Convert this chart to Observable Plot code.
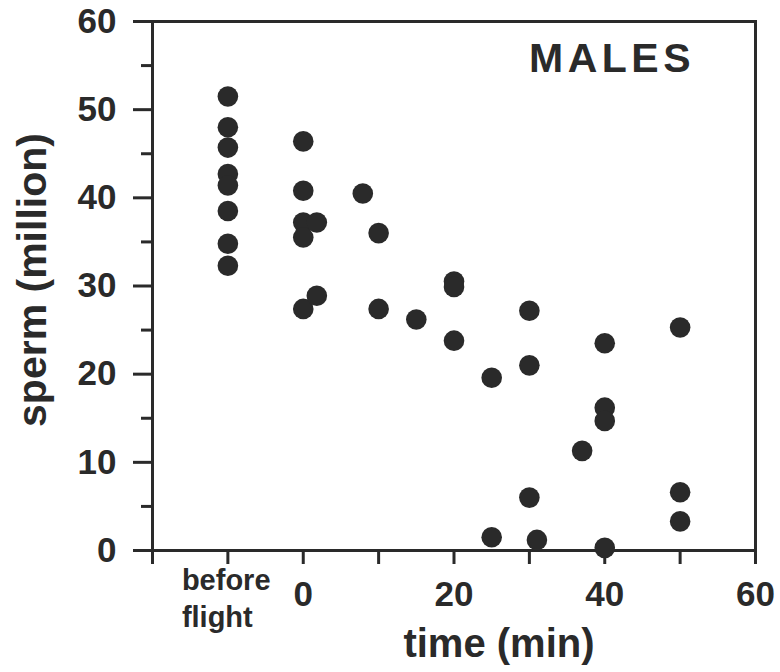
<!DOCTYPE html>
<html>
<head>
<meta charset="utf-8">
<script src="https://cdn.jsdelivr.net/npm/d3@7"></script>
<script src="https://cdn.jsdelivr.net/npm/@observablehq/plot@0.6"></script>
<style>
  html, body { margin: 0; padding: 0; background: #fff; }
  #chart { width: 780px; height: 672px; }
</style>
</head>
<body>
<div id="chart"></div>
<script>
// ---- data ----
const BEFORE_X = -10;               // x position code for the "before flight" category
const beforeLabel = "before\nflight";
const beforeFlight = [51.5, 48.0, 45.7, 42.7, 41.4, 38.5, 34.8, 32.3];
const flightTimes = [0, 0, 0, 0, 0, 1.8, 1.8, 7.9, 10, 10, 15, 20, 20, 20, 25, 25, 30, 30, 30, 31, 37, 40, 40, 40, 40, 50, 50, 50];
const flightSperm = [46.4, 40.8, 37.2, 35.5, 27.4, 37.2, 28.9, 40.5, 36.0, 27.4, 26.2, 30.5, 29.9, 23.8, 19.6, 1.5, 27.2, 21.0, 6.0, 1.2, 11.3, 23.5, 16.2, 14.7, 0.3, 25.3, 6.6, 3.3];
const yTicks = [0, 10, 20, 30, 40, 50, 60];
const yMinorTicks = [5, 15, 25, 35, 45, 55];
const xTicks = [-20, -10, 0, 10, 20, 30, 40, 50, 60];
const xTickLabels = {0: "0", 20: "20", 40: "40", 60: "60"};
const panelTitle = "MALES";
const xTitle = "time (min)";
const yTitle = "sperm (million)";

const points = [
  ...beforeFlight.map(v => ({t: BEFORE_X, s: v})),
  ...flightTimes.map((t, i) => ({t, s: flightSperm[i]}))
];

const ink = "#2a2a2a";
const chart = Plot.plot({
  width: 780,
  height: 672,
  marginLeft: 152,
  marginRight: 25,
  marginTop: 21,
  marginBottom: 122,
  style: {fontFamily: "'Liberation Sans', Arial, Helvetica, sans-serif", color: ink, background: "#fff"},
  x: {domain: [-20, 60]},
  y: {domain: [0, 60]},
  marks: [
    Plot.frame({stroke: ink, strokeWidth: 3}),
    Plot.axisY({ticks: yTicks, tickSize: 19, tickPadding: 17, fontSize: 35, fontWeight: "bold", strokeWidth: 3, label: null}),
    Plot.axisY({ticks: yMinorTicks, tickSize: 11, text: null, strokeWidth: 3, label: null}),
    Plot.axisX({ticks: xTicks, tickSize: 14, tickPadding: 17, strokeWidth: 3, fontSize: 35, fontWeight: "bold",
      tickFormat: d => xTickLabels[d] ?? "", label: null}),
    Plot.text([beforeLabel], {x: () => BEFORE_X, frameAnchor: "bottom", text: d => d, textAnchor: "start",
      lineAnchor: "top", dx: -46, dy: 13, fontSize: 29, fontWeight: "bold", lineHeight: 1.28, fill: ink}),
    Plot.dot(points, {x: "t", y: "s", r: 10.3, fill: ink, stroke: "none"}),
    Plot.text([panelTitle], {frameAnchor: "top", text: d => d, dx: 158, dy: 21, lineAnchor: "top",
      fontSize: 41, fontWeight: "bold", fill: ink, className: "panel-title"}),
    Plot.text([xTitle], {frameAnchor: "bottom", text: d => d, textAnchor: "middle", dx: 45, dy: 94, lineAnchor: "middle",
      fontSize: 40, fontWeight: "bold", fill: ink}),
    Plot.text([yTitle], {frameAnchor: "left", text: d => d, textAnchor: "middle", dx: -120, dy: -6, rotate: -90, lineAnchor: "middle",
      fontSize: 41, fontWeight: "bold", fill: ink})
  ]
});
d3.select(chart).selectAll(".panel-title text").style("letter-spacing", "4.5px");
document.getElementById("chart").appendChild(chart);
</script>
</body>
</html>
